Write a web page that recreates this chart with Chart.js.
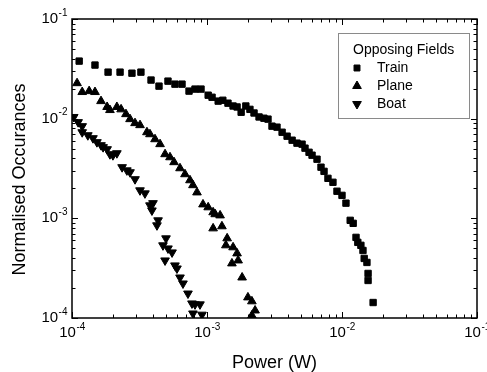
<!DOCTYPE html>
<html>
<head>
<meta charset="utf-8">
<script src="https://cdn.jsdelivr.net/npm/chart.js@4.4.1/dist/chart.umd.min.js"></script>
<style>
  html, body { margin: 0; padding: 0; background: #fff; }
  #wrap { width: 487px; height: 372px; }
</style>
</head>
<body>
<div id="wrap"><canvas id="powerChart" width="487" height="372"></canvas></div>
<script>
// Power (W) vs normalised occurances, opposing fields
const trainPower = [
  1.13e-4, 1.48e-4, 1.85e-4, 2.27e-4, 2.78e-4, 3.24e-4, 3.85e-4, 4.41e-4, 5.14e-4, 5.79e-4,
  6.53e-4, 7.36e-4, 8.15e-4, 9.03e-4, 1.02e-3, 1.09e-3, 1.21e-3, 1.31e-3, 1.43e-3, 1.56e-3,
  1.67e-3, 1.79e-3, 1.94e-3, 2.08e-3, 2.23e-3, 2.43e-3, 2.64e-3, 2.83e-3, 3.03e-3, 3.30e-3,
  3.60e-3, 3.92e-3, 4.27e-3, 4.64e-3, 5.06e-3, 5.32e-3, 5.70e-3, 6.00e-3, 6.53e-3, 6.99e-3,
  7.36e-3, 7.87e-3, 8.57e-3, 9.18e-3, 1.00e-2, 1.07e-2, 1.15e-2, 1.21e-2, 1.27e-2, 1.31e-2,
  1.38e-2, 1.43e-2, 1.46e-2, 1.53e-2, 1.56e-2, 1.56e-2, 1.70e-2,
];
const trainOcc = [
  3.78e-2, 3.45e-2, 2.93e-2, 2.93e-2, 2.86e-2, 2.93e-2, 2.44e-2, 2.12e-2, 2.38e-2, 2.22e-2,
  2.22e-2, 1.89e-2, 1.98e-2, 1.98e-2, 1.72e-2, 1.64e-2, 1.50e-2, 1.53e-2, 1.43e-2, 1.34e-2,
  1.31e-2, 1.16e-2, 1.34e-2, 1.24e-2, 1.14e-2, 1.04e-2, 1.01e-2, 9.89e-3, 8.41e-3, 8.22e-3,
  7.31e-3, 6.67e-3, 6.08e-3, 5.68e-3, 5.55e-3, 5.06e-3, 4.60e-3, 4.30e-3, 3.92e-3, 3.26e-3,
  2.96e-3, 2.52e-3, 2.30e-3, 1.87e-3, 1.70e-3, 1.42e-3, 9.55e-4, 8.91e-4, 6.44e-4, 5.74e-4,
  5.36e-4, 4.76e-4, 3.96e-4, 3.61e-4, 2.80e-4, 2.38e-4, 1.43e-4,
];

const planePower = [
  1.09e-4, 1.19e-4, 1.34e-4, 1.48e-4, 1.64e-4, 1.82e-4, 1.91e-4, 2.15e-4, 2.31e-4, 2.51e-4,
  2.69e-4, 2.93e-4, 3.19e-4, 3.59e-4, 3.78e-4, 4.12e-4, 4.49e-4, 4.89e-4, 5.32e-4, 5.70e-4,
  6.31e-4, 6.87e-4, 7.48e-4, 7.87e-4, 8.43e-4, 9.34e-4, 1.02e-3, 1.11e-3, 1.15e-3, 1.25e-3,
  1.11e-3, 1.29e-3, 1.41e-3, 1.38e-3, 1.56e-3, 1.67e-3, 1.70e-3, 1.53e-3, 1.82e-3, 2.01e-3,
  2.15e-3, 2.27e-3, 2.15e-3,
];
const planeOcc = [
  2.27e-2, 1.85e-2, 1.89e-2, 1.85e-2, 1.50e-2, 1.31e-2, 1.22e-2, 1.31e-2, 1.24e-2, 1.11e-2,
  9.89e-3, 9.02e-3, 8.61e-3, 7.31e-3, 6.98e-3, 6.22e-3, 5.55e-3, 4.40e-3, 4.10e-3, 3.66e-3,
  3.18e-3, 2.77e-3, 2.41e-3, 2.15e-3, 1.82e-3, 1.38e-3, 1.29e-3, 1.15e-3, 1.10e-3, 1.07e-3,
  7.93e-4, 8.32e-4, 6.30e-4, 5.36e-4, 5.12e-4, 4.45e-4, 3.78e-4, 3.53e-4, 2.55e-4, 1.61e-4,
  1.47e-4, 1.19e-4, 1.06e-4,
];

const boatPower = [
  1.03e-4, 1.11e-4, 1.19e-4, 1.19e-4, 1.31e-4, 1.43e-4, 1.53e-4, 1.64e-4, 1.70e-4, 1.82e-4,
  1.91e-4, 2.01e-4, 2.15e-4, 2.35e-4, 2.55e-4, 2.69e-4, 2.93e-4, 3.19e-4, 3.47e-4, 3.78e-4,
  3.98e-4, 3.91e-4, 4.34e-4, 4.26e-4, 4.97e-4, 4.72e-4, 5.14e-4, 5.51e-4, 4.89e-4, 5.79e-4,
  5.99e-4, 6.31e-4, 6.64e-4, 7.23e-4, 7.74e-4, 8.15e-4, 8.87e-4, 7.87e-4, 9.18e-4,
];
const boatOcc = [
  1.04e-2, 9.23e-3, 8.41e-3, 7.31e-3, 6.82e-3, 6.37e-3, 5.81e-3, 5.42e-3, 5.18e-3, 4.94e-3,
  4.40e-3, 4.30e-3, 4.50e-3, 3.26e-3, 3.03e-3, 2.90e-3, 2.47e-3, 1.91e-3, 1.78e-3, 1.35e-3,
  1.42e-3, 1.20e-3, 9.55e-4, 8.51e-4, 6.30e-4, 5.36e-4, 4.99e-4, 4.55e-4, 3.78e-4, 3.37e-4,
  3.14e-4, 2.55e-4, 2.22e-4, 1.76e-4, 1.40e-4, 1.37e-4, 1.37e-4, 1.11e-4, 1.08e-4,
];

const decadeValues = [1e-4, 1e-3, 1e-2, 1e-1];
const decadeExponents = ["-4", "-3", "-2", "-1"];
const minorSteps = [2, 3, 4, 5, 6, 7, 8, 9];

const FONT = '"Liberation Sans", Arial, Helvetica, sans-serif';

function toPoints(xs, ys) {
  return xs.map(function (x, i) {
    return { x: x, y: ys[i] };
  });
}

// writes "10" with a raised exponent
function drawPower(ctx, exp, x, y, align) {
  ctx.font = "15px " + FONT;
  var wb = ctx.measureText("10").width;
  ctx.font = "10px " + FONT;
  var we = ctx.measureText(exp).width;
  var start = align === "right" ? x - wb - we : x - (wb + we) / 2;
  ctx.textAlign = "left";
  ctx.textBaseline = "middle";
  ctx.font = "15px " + FONT;
  ctx.fillText("10", start, y);
  ctx.font = "10px " + FONT;
  ctx.fillText(exp, start + wb + 0.5, y - 6);
}

//============================
// frame, inward ticks, labels and legend
//============================
const axisDecor = {
  id: "axisDecor",
  afterDatasetsDraw(chart) {
    var ctx = chart.ctx;
    var area = chart.chartArea;
    var xs = chart.scales.x;
    var ys = chart.scales.y;

    ctx.save();
    ctx.strokeStyle = "#000";
    ctx.fillStyle = "#000";

    // tick marks on all four sides
    ctx.lineWidth = 1;
    var marks = [];
    decadeValues.forEach(function (d, i) {
      marks.push({ v: d, len: 6 });
      if (i < decadeValues.length - 1) {
        minorSteps.forEach(function (k) {
          marks.push({ v: d * k, len: 3.5 });
        });
      }
    });
    ctx.beginPath();
    marks.forEach(function (m) {
      var px = Math.round(xs.getPixelForValue(m.v)) + 0.5;
      ctx.moveTo(px, area.bottom);
      ctx.lineTo(px, area.bottom - m.len);
      ctx.moveTo(px, area.top);
      ctx.lineTo(px, area.top + m.len);
      var py = Math.round(ys.getPixelForValue(m.v)) + 0.5;
      ctx.moveTo(area.left, py);
      ctx.lineTo(area.left + m.len, py);
      ctx.moveTo(area.right, py);
      ctx.lineTo(area.right - m.len, py);
    });
    ctx.stroke();

    ctx.lineWidth = 1.5;
    ctx.strokeRect(area.left, area.top, area.right - area.left, area.bottom - area.top);

    // tick labels
    decadeValues.forEach(function (d, i) {
      drawPower(ctx, decadeExponents[i], xs.getPixelForValue(d), area.bottom + 15, "center");
      drawPower(ctx, decadeExponents[i], area.left - 5, ys.getPixelForValue(d), "right");
    });

    // axis titles
    ctx.font = "18px " + FONT;
    ctx.textAlign = "center";
    ctx.textBaseline = "middle";
    ctx.fillText("Power (W)", (area.left + area.right) / 2, area.bottom + 45);
    ctx.save();
    ctx.translate(20, (area.top + area.bottom) / 2 + 11);
    ctx.rotate(-Math.PI / 2);
    ctx.fillText("Normalised Occurances", 0, 0);
    ctx.restore();

    // legend box
    var bx = area.right - 139;
    var by = area.top + 14;
    ctx.fillStyle = "#fff";
    ctx.fillRect(bx, by, 131, 85);
    ctx.strokeStyle = "#8a8a8a";
    ctx.lineWidth = 1;
    ctx.strokeRect(bx + 0.5, by + 0.5, 131, 85);

    ctx.fillStyle = "#000";
    ctx.textAlign = "left";
    ctx.font = "14px " + FONT;
    ctx.fillText("Opposing Fields", bx + 15, by + 17);

    chart.data.datasets.forEach(function (ds, i) {
      var ry = by + 35 + i * 18;
      ctx.fillStyle = "#000";
      ctx.strokeStyle = "#000";
      Chart.helpers.drawPoint(ctx, {
        pointStyle: ds.pointStyle,
        radius: ds.pointStyle === "rect" ? 4.2 : 5,
        rotation: ds.rotation || 0,
        borderWidth: 1,
      }, bx + 19, ry);
      ctx.fillStyle = "#000";
      ctx.font = "14px " + FONT;
      ctx.fillText(ds.label, bx + 39, ry);
    });

    ctx.restore();
  },
};

const ctxPower = document.getElementById("powerChart");

var data = {
  datasets: [
    {
      label: "Train",
      data: toPoints(trainPower, trainOcc),
      pointStyle: "rect",
      pointRadius: 4.5,
      backgroundColor: "#000",
      borderColor: "#000",
      borderWidth: 1,
    },
    {
      label: "Plane",
      data: toPoints(planePower, planeOcc),
      pointStyle: "triangle",
      pointRadius: 5,
      backgroundColor: "#000",
      borderColor: "#000",
      borderWidth: 1,
    },
    {
      label: "Boat",
      data: toPoints(boatPower, boatOcc),
      pointStyle: "triangle",
      rotation: 180,
      pointRotation: 180,
      pointRadius: 5,
      backgroundColor: "#000",
      borderColor: "#000",
      borderWidth: 1,
    },
  ],
};

var config = {
  type: "scatter",
  data: data,
  options: {
    responsive: false,
    animation: false,
    layout: { padding: { top: 19, right: 10, left: 0, bottom: 0 } },
    plugins: {
      legend: { display: false },
      tooltip: { enabled: false },
    },
    scales: {
      x: {
        type: "logarithmic",
        min: 1e-4,
        max: 1e-1,
        grid: { display: false },
        border: { display: false },
        ticks: { display: false },
        afterFit: function (scale) {
          scale.height = 54;
        },
      },
      y: {
        type: "logarithmic",
        min: 1e-4,
        max: 1e-1,
        grid: { display: false },
        border: { display: false },
        ticks: { display: false },
        afterFit: function (scale) {
          scale.width = 72;
        },
      },
    },
  },
  plugins: [axisDecor],
};

var chartPower = new Chart(ctxPower, config);
</script>
</body>
</html>
